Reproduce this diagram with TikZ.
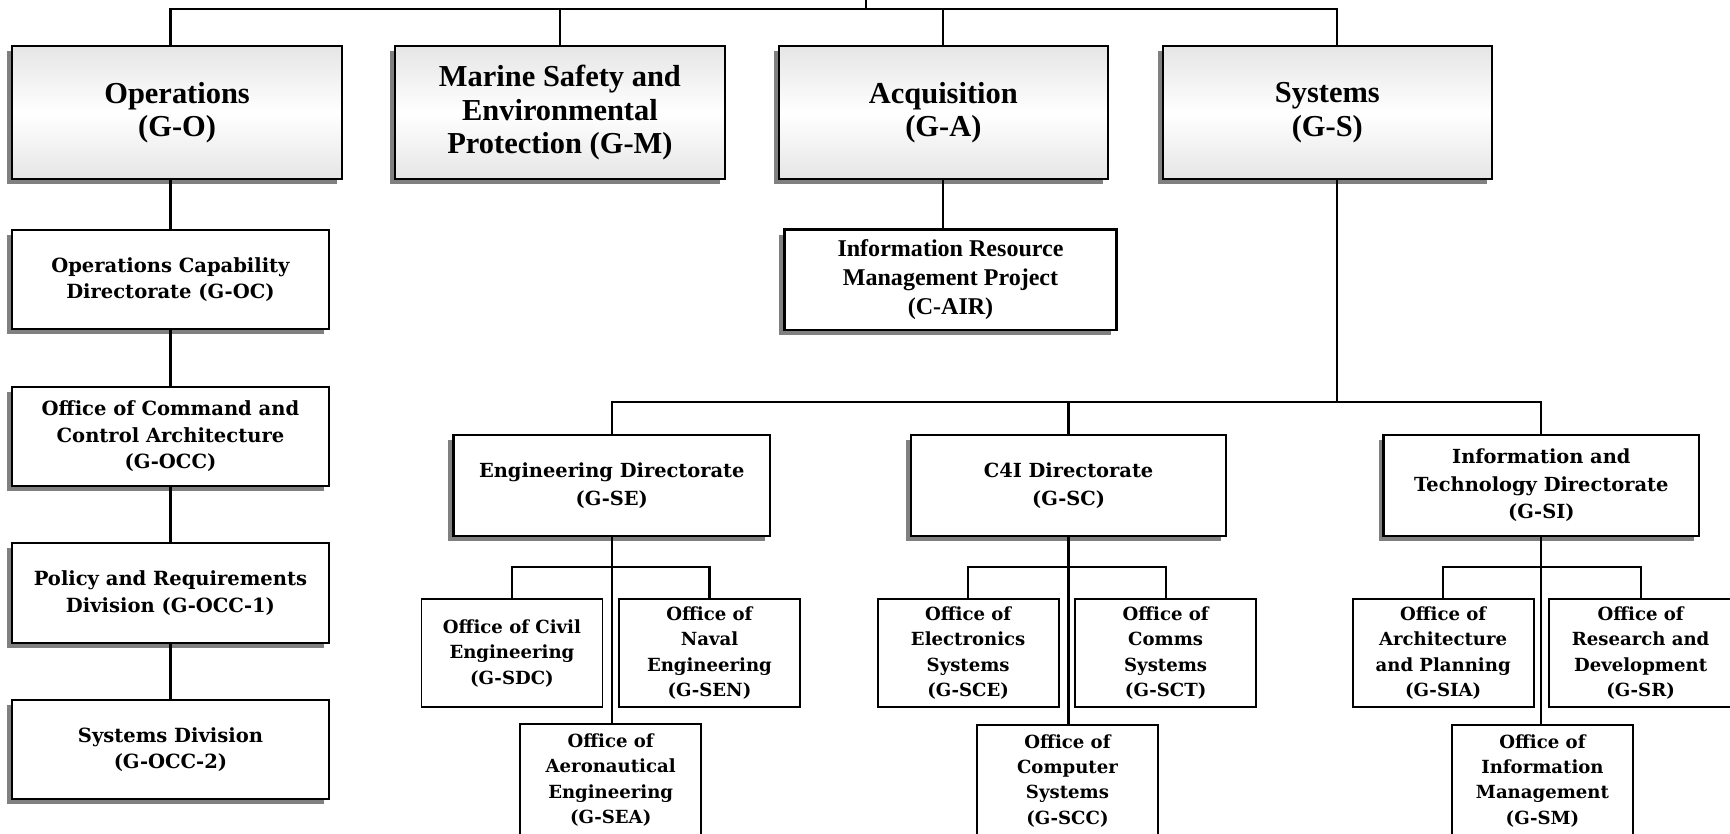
\documentclass[tikz,border=0pt]{standalone}
\usepackage{fontspec}
\setmainfont{Liberation Serif}
\newfontfamily\dvserif{DejaVu Serif}
\usepackage{tikz}
\usetikzlibrary{positioning,shadows,calc}

\begin{document}
\begin{tikzpicture}[
    x=0.5pt, y=-0.5pt,
    link/.style={line width=1pt},
    shadowed/.style={drop shadow={shadow xshift=-2.3pt, shadow yshift=-2.3pt,
                     fill=black!50, opacity=1}},
    deptbox/.style={draw, line width=1pt, shadowed, top color=black!10,
                    bottom color=black!10, middle color=white,
                    minimum width=149.5pt, minimum height=60pt, inner sep=0pt,
                    align=center, font=\bfseries\fontsize{13.8}{15.25}\selectfont},
    unitbox/.style={draw, line width=1pt, shadowed, fill=white, inner sep=0pt,
                    minimum width=143.5pt, minimum height=45pt, align=center,
                    font=\dvserif\bfseries\fontsize{8.85}{12}\selectfont},
    dirbox/.style={unitbox, minimum height=46pt,
                   font=\dvserif\bfseries\fontsize{8.8}{12.5}\selectfont},
    officebox/.style={draw, line width=0.8pt, fill=white, inner sep=0pt,
                      minimum width=82pt, minimum height=49pt, align=center,
                      font=\dvserif\bfseries\fontsize{8.2}{11.5}\selectfont},
  ]
  \useasboundingbox (0,0) rectangle (1568,755);

  % --- top level: the four assistant commandants ---
  \node[deptbox] (go) at (160.5,102) {Operations\\(G-O)};
  \node[deptbox] (gm) at (507.5,102) {Marine Safety and\\Environmental\\Protection (G-M)};
  \node[deptbox, minimum width=149pt] (ga) at (855,102) {Acquisition\\(G-A)};
  \node[deptbox, minimum width=149pt] (gs) at (1203,102) {Systems\\(G-S)};

  \coordinate (top) at (785,8);
  \draw[link] (top) -- ++(0,-20);
  \draw[link] (gm.north) -- (gm.north |- top);
  \draw[link] (ga.north) -- (ga.north |- top);

  % --- operations chain ---
  \node[unitbox] (goc) at (154.5,253.5) {Operations Capability\\Directorate (G-OC)};
  \node[unitbox, below=25pt of goc] (gocc) {Office of Command and\\Control Architecture\\(G-OCC)};
  \node[unitbox, below=25pt of gocc] (gocc1) {Policy and Requirements\\Division (G-OCC-1)};
  \node[unitbox, below=25pt of gocc1] (gocc2) {Systems Division\\(G-OCC-2)};

  \draw[link] (goc.north |- go.north) |- (top) -| ($(gs.north)+(9,0)$);
  \draw[link] (goc.north |- go.south) -- (goc.north);
  \draw[link] (goc.south) -- (gocc.north);
  \draw[link] (gocc.south) -- (gocc1.north);
  \draw[link] (gocc1.south) -- (gocc2.north);

  % --- acquisition ---
  \node[unitbox, minimum width=150.5pt, minimum height=45.5pt,
        font=\bfseries\fontsize{10.9}{13}\selectfont] (cair) at (861.5,253.5)
    {Information Resource\\Management Project\\(C-AIR)};
  \draw[link] (ga.south) -- (ga.south |- cair.north);

  % --- systems directorates ---
  \node[dirbox] (gse) at (554.5,440) {Engineering Directorate\\(G-SE)};
  \node[dirbox, minimum width=142.5pt] (gsc) at (968.5,440) {C4I Directorate\\(G-SC)};
  \node[dirbox, minimum width=143pt] (gsi) at (1397,440) {Information and\\Technology Directorate\\(G-SI)};

  \coordinate (sysbus) at (1212,364);
  \draw[link] (gs.south -| sysbus) -- (sysbus);
  \draw[link] (gse.north) -- (gse.north |- sysbus) -- (gsi.north |- sysbus) -- (gsi.north);
  \draw[link] (gsc.north) -- (gsc.north |- sysbus);

  % --- offices under G-SE ---
  \node[officebox] (gsdc) at (464,592) {Office of Civil\\Engineering\\(G-SDC)};
  \node[officebox] (gsen) at (643,592) {Office of\\Naval\\Engineering\\(G-SEN)};
  \node[officebox, minimum height=51pt] (gsea) at (553.5,707) {Office of\\Aeronautical\\Engineering\\(G-SEA)};
  \draw[link] (gse.south) -- (gse.south |- gsea.north);
  \draw[link] (gsdc.north) -- ++(0,-28) -| (gsen.north);

  % --- offices under G-SC ---
  \node[officebox] (gsce) at (877.5,592) {Office of\\Electronics\\Systems\\(G-SCE)};
  \node[officebox] (gsct) at (1056.5,592) {Office of\\Comms\\Systems\\(G-SCT)};
  \node[officebox, minimum height=50.5pt] (gscc) at (967.5,707.5) {Office of\\Computer\\Systems\\(G-SCC)};
  \draw[link] (gsc.south) -- (gsc.south |- gscc.north);
  \draw[link] (gsce.north) -- ++(0,-28) -| (gsct.north);

  % --- offices under G-SI ---
  \node[officebox] (gsia) at (1308,592) {Office of\\Architecture\\and Planning\\(G-SIA)};
  \node[officebox, minimum width=83pt] (gsr) at (1487,592) {Office of\\Research and\\Development\\(G-SR)};
  \node[officebox, minimum height=50.5pt] (gsm) at (1398,707.5) {Office of\\Information\\Management\\(G-SM)};
  \draw[link] (gsi.south) -- (gsi.south |- gsm.north);
  \draw[link] (gsia.north) -- ++(0,-28) -| (gsr.north);
\end{tikzpicture}
\end{document}
